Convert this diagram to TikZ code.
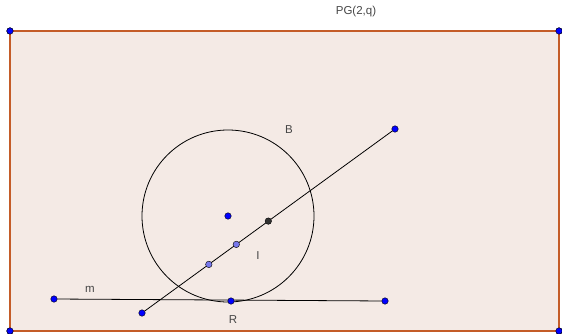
\documentclass[tikz,border=0pt]{standalone}
\usepackage{fontspec}
\setmainfont{Liberation Sans}
\definecolor{bgfill}{RGB}{244,234,229}
\definecolor{edge}{RGB}{196,92,40}
\definecolor{ptblue}{RGB}{0,0,255}
\definecolor{ptlight}{RGB}{120,120,235}
\definecolor{ptdark}{RGB}{50,50,50}
\definecolor{txt}{RGB}{70,70,70}
\tikzset{
  pt/.style={circle,fill=ptblue,draw=black,line width=0.4pt,inner sep=0pt,minimum size=6.5pt},
  ptl/.style={pt,fill=ptlight},
  ptd/.style={pt,fill=ptdark},
  lbl/.style={text=txt,font=\fontsize{11.5}{13}\selectfont,inner sep=0pt},
  seg/.style={draw=black,line width=0.8pt},
}
\begin{document}
\begin{tikzpicture}[x=1pt,y=-1pt]
\useasboundingbox (0,0) rectangle (562,334);
% rectangle corners
\node[pt] (A) at (10,31) {};
\node[pt] (Bc) at (559,31) {};
\node[pt] (C) at (559,331) {};
\node[pt] (D) at (10,331) {};
\fill[bgfill] (A.center) rectangle (C.center);
\draw[edge,line width=1.5pt] (A.center) -- (Bc.center) -- (C.center) -- (D.center) -- cycle;
\node[pt] at (A) {};
\node[pt] at (Bc) {};
\node[pt] at (C) {};
\node[pt] at (D) {};
\node[lbl] (pg) at (356,12) {PG(2,q)};
% circle B
\coordinate (O) at (228,216);
\draw[black,line width=0.8pt] (O) circle[radius=86];
\node[pt] (Oc) at (O) {};
\node[lbl] (lb) at (289,130) {B};
% line m
\node[pt] (M1) at (54,299) {};
\node[pt] (M2) at (385,301) {};
\draw[seg] (M1) -- (M2);
\node[pt] (R) at (231,301) {};
\node[lbl] (lm) at (90,289) {m};
\node[lbl] (lr) at (233,320) {R};
% secant line
\node[pt] (S1) at (142,313) {};
\node[pt] (S2) at (395,129) {};
\draw[seg] (S1) -- (S2);
\node[ptl] (P1) at (208.8,264.4) {};
\node[ptl] (P2) at (236.3,244.4) {};
\node[ptd] (P3) at (268.3,221.1) {};
\node[lbl] (li) at (258,256) {I};
\end{tikzpicture}
\end{document}
